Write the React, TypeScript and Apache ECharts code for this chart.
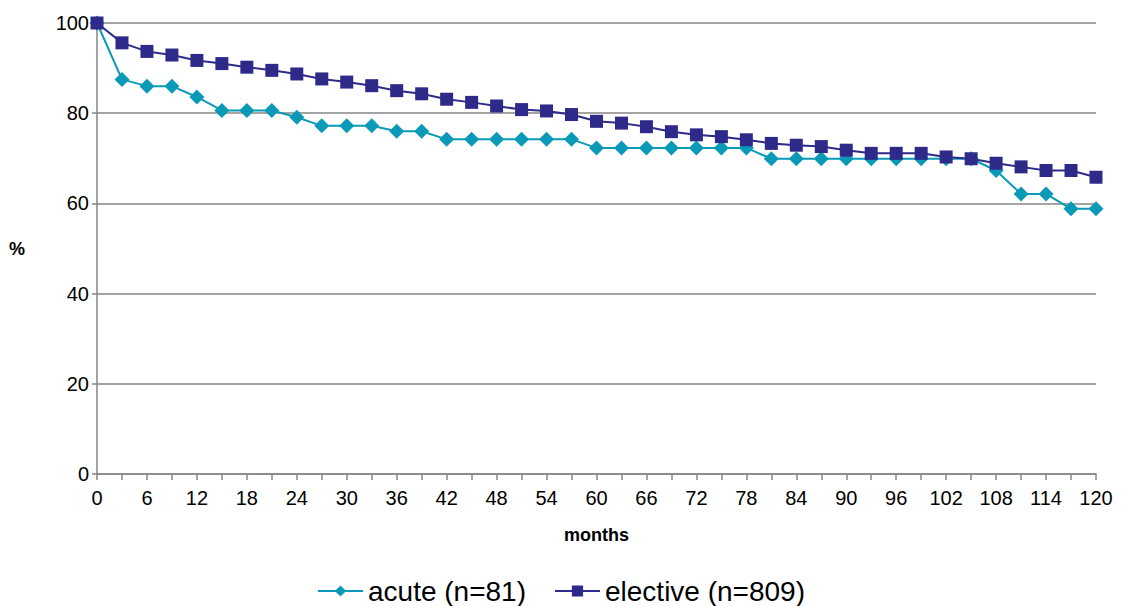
import React, { useEffect, useRef } from "react";
import * as echarts from "echarts";

const months: string[] = [
  "0", "3", "6", "9", "12", "15", "18", "21", "24", "27", "30", "33", "36", "39", "42", "45", "48", "51", "54", "57",
  "60", "63", "66", "69", "72", "75", "78", "81", "84", "87", "90", "93", "96", "99", "102", "105", "108", "111", "114", "117", "120",
];

const acute: number[] = [
  100, 87.5, 86.0, 86.0, 83.6, 80.6, 80.6, 80.6, 79.1, 77.2, 77.2, 77.2, 76.0, 76.0, 74.2, 74.2, 74.2, 74.2, 74.2, 74.2,
  72.3, 72.3, 72.3, 72.3, 72.3, 72.3, 72.3, 69.9, 69.9, 69.9, 69.9, 69.9, 69.9, 69.9, 69.9, 69.9, 67.3, 62.1, 62.1, 58.8, 58.8,
];

const elective: number[] = [
  100, 95.6, 93.7, 92.9, 91.7, 91.0, 90.2, 89.5, 88.7, 87.6, 86.9, 86.1, 85.0, 84.3, 83.1, 82.4, 81.6, 80.8, 80.5, 79.7,
  78.2, 77.8, 77.0, 75.9, 75.2, 74.8, 74.1, 73.3, 72.9, 72.6, 71.8, 71.1, 71.1, 71.1, 70.3, 69.9, 68.9, 68.1, 67.3, 67.3, 65.8,
];

const yTicks = { min: 0, max: 100, interval: 20 };

const ACUTE_COLOR = "#0A9AB8";
const ELECTIVE_COLOR = "#2E2A8A";

export default function App() {
  const ref = useRef<HTMLDivElement>(null);

  useEffect(() => {
    if (!ref.current) return;
    const chart = echarts.init(ref.current, undefined, { renderer: "svg" });
    chart.setOption({
      animation: false,
      backgroundColor: "#ffffff",
      textStyle: { fontFamily: "Liberation Sans, Arial, sans-serif" },
      grid: { left: 97, right: 26, top: 23, bottom: 132, containLabel: false },
      legend: {
        bottom: -4,
        left: "center",
        itemWidth: 45,
        itemHeight: 14,
        itemGap: 28,
        textStyle: { fontSize: 28, color: "#000", fontFamily: "Liberation Sans, Arial, sans-serif" },
        data: [
          { name: "acute (n=81)" },
          { name: "elective (n=809)" },
        ],
      },
      xAxis: {
        type: "category",
        data: months,
        boundaryGap: false,
        name: "months",
        nameLocation: "middle",
        nameGap: 52,
        nameTextStyle: { fontSize: 18, fontWeight: "bold", color: "#000" },
        axisLine: { lineStyle: { color: "#868686", width: 1.5 } },
        axisTick: { show: true, interval: 0, length: 6, lineStyle: { color: "#868686", width: 1.5 } },
        axisLabel: { interval: 1, fontSize: 20, color: "#000", margin: 14 },
        splitLine: { show: false },
      },
      yAxis: {
        type: "value",
        min: yTicks.min,
        max: yTicks.max,
        interval: yTicks.interval,
        name: "%",
        nameLocation: "middle",
        nameRotate: 0,
        nameGap: 72,
        nameTextStyle: { fontSize: 18, fontWeight: "bold", color: "#000" },
        axisLine: { show: true, lineStyle: { color: "#868686", width: 1.5 } },
        axisTick: { show: true, length: 5, lineStyle: { color: "#868686", width: 1.5 } },
        axisLabel: { fontSize: 20, color: "#000", margin: 8 },
        splitLine: { show: true, lineStyle: { color: "#868686", width: 1.5 } },
      },
      series: [
        {
          name: "acute (n=81)",
          type: "line",
          data: acute,
          symbol: "diamond",
          symbolSize: 15,
          itemStyle: { color: ACUTE_COLOR },
          lineStyle: { color: ACUTE_COLOR, width: 2 },
        },
        {
          name: "elective (n=809)",
          type: "line",
          data: elective,
          symbol: "rect",
          symbolSize: 13,
          itemStyle: { color: ELECTIVE_COLOR },
          lineStyle: { color: ELECTIVE_COLOR, width: 2 },
        },
      ],
    });
    return () => chart.dispose();
  }, []);

  return (
    <div
      ref={ref}
      style={{ position: "absolute", left: 0, top: 0, width: 1122, height: 606 }}
    />
  );
}
